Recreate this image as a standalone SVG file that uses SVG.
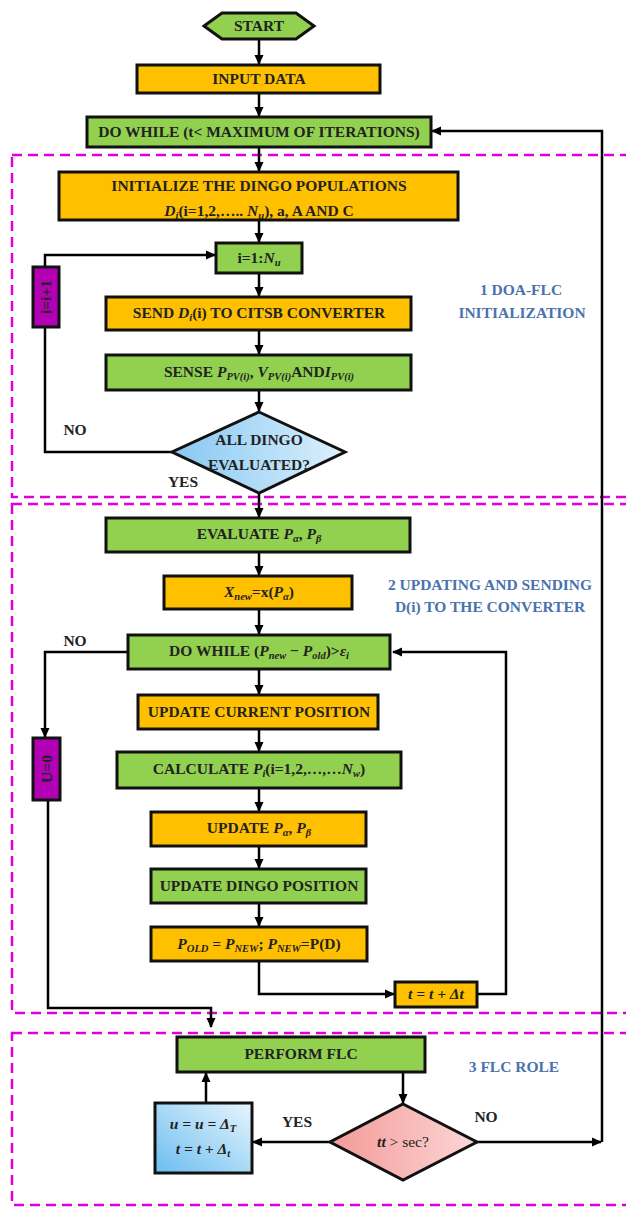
<svg xmlns="http://www.w3.org/2000/svg" width="626" height="1208" viewBox="0 0 626 1208">
<defs>
<marker id="ah" markerWidth="10" markerHeight="10" refX="9" refY="5" orient="auto" markerUnits="userSpaceOnUse">
<path d="M0,0.5 L10,5 L0,9.5 z" fill="#000"/>
</marker>
<linearGradient id="gBlue" x1="0" y1="0.5" x2="1" y2="0.5">
<stop offset="0" stop-color="#86C8F2"/><stop offset="1" stop-color="#DDF0FC"/>
</linearGradient>
<linearGradient id="gBox" x1="0" y1="1" x2="1" y2="0">
<stop offset="0" stop-color="#6BBDF0"/><stop offset="1" stop-color="#E8F5FD"/>
</linearGradient>
<linearGradient id="gPink" x1="0" y1="0.5" x2="1" y2="0.5">
<stop offset="0" stop-color="#F39A98"/><stop offset="1" stop-color="#FCD6D6"/>
</linearGradient>
</defs>
<style>
.box{stroke:#111;stroke-width:3}
.or{fill:#FFC000}
.gr{fill:#92D050}
.mg{fill:#B400B4}
.t{font-family:"Liberation Serif","Times New Roman",serif;font-weight:bold;font-size:15.5px;fill:#222;text-anchor:middle}
.m{font-style:italic}
.s{font-size:10.5px;font-style:italic}
.lbl{font-family:"Liberation Serif","Times New Roman",serif;font-weight:bold;font-size:15.5px;fill:#4A72AE;text-anchor:middle}
.reg{fill:none;stroke:#DD00DD;stroke-width:2.5;stroke-dasharray:10 6}
.c{fill:none;stroke:#000;stroke-width:2.5}
</style>

<g id="regions">
<rect class="reg" x="12" y="155" width="640" height="342"/>
<rect class="reg" x="12" y="504" width="640" height="509"/>
<rect class="reg" x="12" y="1033" width="640" height="172"/>
</g>

<g id="connectors">
<path class="c" d="M259,39 V64" marker-end="url(#ah)"/>
<path class="c" d="M259,93 V116" marker-end="url(#ah)"/>
<path class="c" d="M259,147 V171" marker-end="url(#ah)"/>
<path class="c" d="M259,220 V242" marker-end="url(#ah)"/>
<path class="c" d="M259,273 V296" marker-end="url(#ah)"/>
<path class="c" d="M259,330 V354" marker-end="url(#ah)"/>
<path class="c" d="M259,390 V411" marker-end="url(#ah)"/>
<path class="c" d="M172,452 H45 V327"/>
<path class="c" d="M45,267 V255 H215" marker-end="url(#ah)"/>
<path class="c" d="M259,493 V517" marker-end="url(#ah)"/>
<path class="c" d="M259,552 V575" marker-end="url(#ah)"/>
<path class="c" d="M259,609 V634" marker-end="url(#ah)"/>
<path class="c" d="M259,669 V694" marker-end="url(#ah)"/>
<path class="c" d="M259,729 V751" marker-end="url(#ah)"/>
<path class="c" d="M259,788 V811" marker-end="url(#ah)"/>
<path class="c" d="M259,846 V868" marker-end="url(#ah)"/>
<path class="c" d="M259,903 V926" marker-end="url(#ah)"/>
<path class="c" d="M259,961 V994 H394" marker-end="url(#ah)"/>
<path class="c" d="M477,994 H506 V652 H393" marker-end="url(#ah)"/>
<path class="c" d="M128,652 H45 V737" marker-end="url(#ah)"/>
<path class="c" d="M48,800 V1008 H211 V1027" marker-end="url(#ah)"/>
<path class="c" d="M403,1072 V1103" marker-end="url(#ah)"/>
<path class="c" d="M330,1142 H253" marker-end="url(#ah)"/>
<path class="c" d="M206,1103 V1073" marker-end="url(#ah)"/>
<path class="c" d="M477,1142 H601" marker-end="url(#ah)"/>
<path class="c" d="M602,1142 V131 H432" marker-end="url(#ah)"/>
</g>

<g id="start">
<polygon class="box gr" points="204,26 222,13 296,13 314,26 296,39 222,39"/>
<text class="t" x="259" y="31">START</text>
</g>
<g id="input">
<rect class="box or" x="137" y="65" width="243" height="28"/>
<text class="t" x="259" y="84">INPUT DATA</text>
</g>
<g id="dowhile1">
<rect class="box gr" x="87" y="117" width="344" height="30"/>
<text class="t" x="259" y="137">DO WHILE (t&lt; MAXIMUM OF ITERATIONS)</text>
</g>
<g id="init">
<rect class="box or" x="59" y="172" width="399" height="48"/>
<text class="t" x="259" y="191">INITIALIZE THE DINGO POPULATIONS</text>
<text class="t" x="259" y="216"><tspan class="m">D</tspan><tspan class="s" dy="3">i</tspan><tspan dy="-3">(i=1,2,….. </tspan><tspan class="m">N</tspan><tspan class="s" dy="3">u</tspan><tspan dy="-3">), a, A AND C</tspan></text>
</g>
<g id="loopi">
<rect class="box gr" x="216" y="243" width="86" height="30"/>
<text class="t" x="259" y="263">i=1:<tspan class="m">N</tspan><tspan class="s" dy="3">u</tspan></text>
</g>
<g id="send">
<rect class="box or" x="106" y="297" width="305" height="33"/>
<text class="t" x="259" y="318">SEND <tspan class="m">D</tspan><tspan class="s" dy="3">i</tspan><tspan dy="-3">(i) TO CITSB CONVERTER</tspan></text>
</g>
<g id="sense">
<rect class="box gr" x="106" y="355" width="305" height="35"/>
<text class="t" x="259" y="377">SENSE <tspan class="m">P</tspan><tspan class="s" dy="3">PV(i)</tspan><tspan dy="-3">, </tspan><tspan class="m">V</tspan><tspan class="s" dy="3">PV(i)</tspan><tspan dy="-3">AND</tspan><tspan class="m">I</tspan><tspan class="s" dy="3">PV(i)</tspan></text>
</g>
<g id="dec1">
<polygon class="box" fill="url(#gBlue)" points="259,412 345,452 259,493 172,452"/>
<text class="t" x="259" y="445">ALL DINGO</text>
<text class="t" x="259" y="470">EVALUATED?</text>
<text class="t" x="75" y="435">NO</text>
<text class="t" x="183" y="487">YES</text>
</g>
<g id="inc">
<rect class="box mg" x="33" y="267" width="26" height="60"/>
<text class="t" transform="translate(46,297) rotate(-90)" x="0" y="5">i=i+1</text>
</g>
<g id="label1">
<text class="lbl" x="521" y="295">1 DOA-FLC</text>
<text class="lbl" x="522" y="318">INITIALIZATION</text>
</g>
<g id="evaluate">
<rect class="box gr" x="106" y="518" width="304" height="34"/>
<text class="t" x="259" y="539">EVALUATE <tspan class="m">P</tspan><tspan class="s" dy="3">α</tspan><tspan dy="-3">, </tspan><tspan class="m">P</tspan><tspan class="s" dy="3">β</tspan></text>
</g>
<g id="xnew">
<rect class="box or" x="164" y="576" width="188" height="33"/>
<text class="t" x="259" y="597"><tspan class="m">X</tspan><tspan class="s" dy="3">new</tspan><tspan dy="-3">=x(</tspan><tspan class="m">P</tspan><tspan class="s" dy="3">α</tspan><tspan dy="-3">)</tspan></text>
</g>
<g id="dowhile2">
<rect class="box gr" x="128" y="635" width="262" height="34"/>
<text class="t" x="259" y="656">DO WHILE (<tspan class="m">P</tspan><tspan class="s" dy="3">new</tspan><tspan dy="-3"> − </tspan><tspan class="m">P</tspan><tspan class="s" dy="3">old</tspan><tspan dy="-3">)&gt;</tspan><tspan class="m">ε</tspan><tspan class="s" dy="3">i</tspan></text>
<text class="t" x="75" y="646">NO</text>
</g>
<g id="u0">
<rect class="box mg" x="33" y="738" width="27" height="62"/>
<text class="t" transform="translate(46.5,769) rotate(-90)" x="0" y="5">U=0</text>
</g>
<g id="label2">
<text class="lbl" x="490" y="590">2 UPDATING AND SENDING</text>
<text class="lbl" x="490" y="612">D(i) TO THE CONVERTER</text>
</g>
<g id="updcur">
<rect class="box or" x="138" y="695" width="240" height="34"/>
<text class="t" x="259" y="717">UPDATE CURRENT POSITION</text>
</g>
<g id="calc">
<rect class="box gr" x="117" y="752" width="284" height="36"/>
<text class="t" x="259" y="774">CALCULATE <tspan class="m">P</tspan><tspan class="s" dy="3">i</tspan><tspan dy="-3">(i=1,2,…,…</tspan><tspan class="m">N</tspan><tspan class="s" dy="3">w</tspan><tspan dy="-3">)</tspan></text>
</g>
<g id="updp">
<rect class="box or" x="151" y="812" width="215" height="34"/>
<text class="t" x="259" y="833">UPDATE <tspan class="m">P</tspan><tspan class="s" dy="3">α</tspan><tspan dy="-3">, </tspan><tspan class="m">P</tspan><tspan class="s" dy="3">β</tspan></text>
</g>
<g id="upddingo">
<rect class="box gr" x="151" y="869" width="215" height="34"/>
<text class="t" x="259" y="891">UPDATE DINGO POSITION</text>
</g>
<g id="pold">
<rect class="box or" x="151" y="927" width="216" height="34"/>
<text class="t" x="259" y="949"><tspan class="m">P</tspan><tspan class="s" dy="3">OLD</tspan><tspan dy="-3"> = </tspan><tspan class="m">P</tspan><tspan class="s" dy="3">NEW</tspan><tspan dy="-3">; </tspan><tspan class="m">P</tspan><tspan class="s" dy="3">NEW</tspan><tspan dy="-3">=P(D)</tspan></text>
</g>
<g id="tinc">
<rect class="box or" x="395" y="982" width="82" height="25"/>
<text class="t m" x="436" y="999">t = t + Δt</text>
</g>
<g id="flc">
<rect class="box gr" x="177" y="1037" width="248" height="35"/>
<text class="t" x="301" y="1059">PERFORM FLC</text>
</g>
<g id="label3">
<text class="lbl" x="514" y="1072">3 FLC ROLE</text>
</g>
<g id="dec2">
<polygon class="box" fill="url(#gPink)" points="403,1104 477,1142 403,1180 330,1142"/>
<text class="t" x="403" y="1147"><tspan class="m">tt</tspan><tspan font-weight="normal"> &gt; sec?</tspan></text>
<text class="t" x="297" y="1127">YES</text>
<text class="t" x="486" y="1122">NO</text>
</g>
<g id="ubox">
<rect class="box" fill="url(#gBox)" x="155" y="1103" width="97" height="70"/>
<text class="t m" x="203" y="1129">u = u = Δ<tspan class="s" dy="3">T</tspan></text>
<text class="t m" x="203" y="1154">t = t + Δ<tspan class="s" dy="3">t</tspan></text>
</g>
</svg>
